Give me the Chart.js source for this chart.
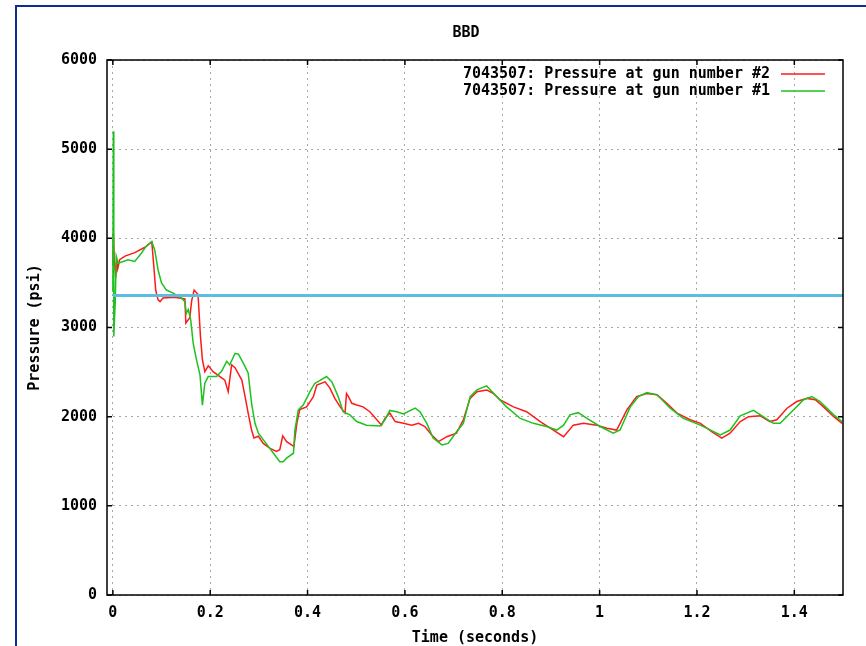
<!DOCTYPE html>
<html>
<head>
<meta charset="utf-8">
<script src="https://cdn.jsdelivr.net/npm/chart.js@4"></script>
<style>
  html, body { margin: 0; padding: 0; background: #fff; }
  #wrap { position: relative; width: 866px; height: 646px; overflow: hidden; }
  #frame { position: absolute; left: 15px; top: 5px; width: 900px; height: 700px;
           border-left: 2px solid #0c2c96; border-top: 2px solid #0c2c96; }
  canvas { position: absolute; left: 0; top: 0; }
</style>
</head>
<body>
<div id="wrap">
  <div id="frame"></div>
  <canvas id="chart" width="866" height="646"></canvas>
</div>
<script>
// Gun pressure traces. Time in seconds, pressure in psi.
const TITLE = 'BBD';
const X_TITLE = 'Time (seconds)';
const Y_TITLE = 'Pressure (psi)';

const xTicks = [0, 0.2, 0.4, 0.6, 0.8, 1, 1.2, 1.4];
const xTickLabels = ['0', '0.2', '0.4', '0.6', '0.8', '1', '1.2', '1.4'];
const yTicks = [0, 1000, 2000, 3000, 4000, 5000, 6000];
const yTickLabels = ['0', '1000', '2000', '3000', '4000', '5000', '6000'];

const redLabel = '7043507: Pressure at gun number #2';
const redTime = [
  0, 0.001, 0.003, 0.006, 0.008, 0.010, 0.014, 0.025, 0.045, 0.066,
  0.080, 0.084, 0.088, 0.093, 0.097, 0.103, 0.127, 0.148, 0.150, 0.158,
  0.162, 0.167, 0.175, 0.180, 0.184, 0.189, 0.196, 0.206, 0.220, 0.230,
  0.237, 0.244, 0.251, 0.265, 0.271, 0.278, 0.285, 0.290, 0.299, 0.309,
  0.323, 0.336, 0.343, 0.349, 0.357, 0.367, 0.372, 0.378, 0.384, 0.398,
  0.412, 0.419, 0.436, 0.446, 0.456, 0.467, 0.477, 0.480, 0.484, 0.491,
  0.501, 0.514, 0.528, 0.552, 0.559, 0.569, 0.580, 0.597, 0.614, 0.628,
  0.641, 0.655, 0.669, 0.686, 0.706, 0.720, 0.734, 0.748, 0.768, 0.782,
  0.795, 0.823, 0.850, 0.878, 0.905, 0.926, 0.946, 0.967, 0.994, 1.015,
  1.035, 1.056, 1.076, 1.097, 1.118, 1.138, 1.159, 1.186, 1.207, 1.231,
  1.251, 1.268, 1.289, 1.306, 1.330, 1.350, 1.364, 1.385, 1.405, 1.426,
  1.443, 1.460, 1.481, 1.498
];
const redPsi = [
  3700, 4060, 3750, 3560, 3750, 3660, 3760, 3800, 3840, 3900,
  3960, 3700, 3420, 3310, 3290, 3330, 3340, 3320, 3050, 3110,
  3300, 3420, 3370, 2900, 2640, 2505, 2570, 2505, 2450, 2410,
  2280, 2580, 2550, 2410, 2245, 2040, 1850, 1760, 1780, 1700,
  1645, 1610, 1630, 1785, 1720, 1683, 1665, 1925, 2080, 2110,
  2225, 2355, 2390, 2320, 2205, 2110, 2040, 2260, 2225, 2150,
  2130, 2110, 2055, 1905, 1980, 2040, 1945, 1925, 1905, 1925,
  1890, 1795, 1720, 1775, 1815, 1965, 2205, 2280, 2300, 2260,
  2190, 2110, 2055, 1945, 1850, 1775, 1905, 1925, 1905, 1870,
  1850, 2075, 2225, 2260, 2245, 2150, 2040, 1965, 1925, 1830,
  1760, 1815, 1945, 2000, 2010, 1945, 1965, 2095, 2170, 2205,
  2190, 2110, 2000, 1925
];

const greenLabel = '7043507: Pressure at gun number #1';
const greenTime = [
  0, 0.001, 0.002, 0.005, 0.007, 0.011, 0.031, 0.045, 0.059, 0.069,
  0.080, 0.086, 0.093, 0.100, 0.110, 0.124, 0.141, 0.148, 0.151, 0.155,
  0.160, 0.165, 0.172, 0.179, 0.184, 0.189, 0.196, 0.213, 0.223, 0.234,
  0.240, 0.251, 0.258, 0.268, 0.278, 0.285, 0.292, 0.299, 0.312, 0.330,
  0.343, 0.350, 0.357, 0.371, 0.374, 0.381, 0.391, 0.405, 0.415, 0.425,
  0.439, 0.450, 0.463, 0.473, 0.487, 0.501, 0.521, 0.549, 0.559, 0.569,
  0.583, 0.597, 0.621, 0.631, 0.645, 0.658, 0.676, 0.689, 0.706, 0.720,
  0.734, 0.748, 0.768, 0.785, 0.809, 0.837, 0.864, 0.891, 0.912, 0.926,
  0.939, 0.956, 0.974, 1.001, 1.028, 1.042, 1.063, 1.080, 1.097, 1.118,
  1.145, 1.172, 1.207, 1.248, 1.268, 1.289, 1.316, 1.336, 1.357, 1.371,
  1.398, 1.419, 1.436, 1.453, 1.481, 1.498
];
const greenPsi = [
  3400, 5200, 2900, 3300, 3800, 3720, 3760, 3740, 3835, 3915,
  3965, 3870, 3645, 3500, 3420, 3385, 3330, 3290, 3160, 3200,
  3085, 2825, 2635, 2470, 2130, 2375, 2450, 2450, 2505, 2620,
  2580, 2710, 2700, 2600, 2490, 2150, 1925, 1815, 1720, 1590,
  1495, 1495, 1535, 1590, 1850, 2075, 2130, 2280, 2375, 2405,
  2450, 2390, 2225, 2055, 2020, 1945, 1905, 1895, 1965, 2070,
  2055, 2030, 2095, 2055, 1925, 1760, 1683, 1700, 1830, 1925,
  2225, 2300, 2345, 2245, 2110, 1980, 1925, 1890, 1850, 1905,
  2020, 2045, 1980, 1890, 1815, 1850, 2110, 2225, 2270, 2245,
  2095, 1980, 1905, 1795, 1850, 2010, 2070, 2000, 1925, 1925,
  2075, 2190, 2225, 2170, 2020, 1945
];

// horizontal reference level
const refTime = [0, 1.5];
const refPsi = [3360, 3360];

const FONT = '"DejaVu Sans Mono", "Liberation Mono", monospace';
const RED = '#ff1a1a';
const GREEN = '#1ec21e';

const toPoints = (xs, ys) => xs.map((x, i) => ({ x, y: ys[i] }));

const gnuplotDecor = {
  id: 'gnuplotDecor',
  afterDatasetsDraw(chart) {
    const ctx = chart.ctx;
    const ca = chart.chartArea;
    const xs = chart.scales.x, ys = chart.scales.y;
    ctx.save();
    // plot border
    ctx.strokeStyle = '#000';
    ctx.lineWidth = 1.5;
    ctx.setLineDash([]);
    ctx.strokeRect(ca.left, ca.top, ca.right - ca.left, ca.bottom - ca.top);
    // inward ticks, mirrored
    ctx.lineWidth = 1.5;
    ctx.beginPath();
    xTicks.forEach(v => {
      const px = xs.getPixelForValue(v);
      ctx.moveTo(px, ca.bottom); ctx.lineTo(px, ca.bottom - 5);
      ctx.moveTo(px, ca.top); ctx.lineTo(px, ca.top + 5);
    });
    yTicks.forEach(v => {
      const py = ys.getPixelForValue(v);
      ctx.moveTo(ca.left, py); ctx.lineTo(ca.left + 5, py);
      ctx.moveTo(ca.right, py); ctx.lineTo(ca.right - 5, py);
    });
    ctx.stroke();

    // title
    ctx.fillStyle = '#000';
    ctx.font = 'bold 15px ' + FONT;
    ctx.textAlign = 'center';
    ctx.textBaseline = 'middle';
    ctx.fillText(TITLE, 466, 33);

    // key, gnuplot style: text right-aligned, sample line after it
    const keys = [[redLabel, RED], [greenLabel, GREEN]];
    ctx.textAlign = 'right';
    keys.forEach(([label, color], i) => {
      const y = 74 + i * 17;
      ctx.fillStyle = '#000';
      ctx.fillText(label, 770, y);
      ctx.strokeStyle = color;
      ctx.lineWidth = 1.5;
      ctx.beginPath();
      ctx.moveTo(781, y);
      ctx.lineTo(825, y);
      ctx.stroke();
    });
    ctx.restore();
  }
};

new Chart(document.getElementById('chart'), {
  type: 'line',
  data: {
    datasets: [
      { label: 'ref', data: toPoints(refTime, refPsi), borderColor: '#5bbde0',
        borderWidth: 3, pointRadius: 0, tension: 0, order: 0 },
      { label: greenLabel, data: toPoints(greenTime, greenPsi), borderColor: GREEN,
        borderWidth: 1.5, pointRadius: 0, tension: 0, order: 1 },
      { label: redLabel, data: toPoints(redTime, redPsi), borderColor: RED,
        borderWidth: 1.5, pointRadius: 0, tension: 0, order: 2 },
    ]
  },
  options: {
    responsive: false,
    animation: false,
    layout: { padding: { top: 60, right: 23, bottom: 0, left: 0 } },
    plugins: { legend: { display: false }, tooltip: { enabled: false } },
    scales: {
      x: {
        type: 'linear',
        min: -0.012, max: 1.5,
        afterBuildTicks: s => { s.ticks = xTicks.map(v => ({ value: v })); },
        afterFit: s => { s.height = 51; },
        grid: { color: '#a8a8a8', lineWidth: 1, drawTicks: false },
        border: { display: false, dash: [2, 4] },
        ticks: {
          padding: 9, color: '#000', maxRotation: 0, autoSkip: false,
          font: { family: FONT, size: 15, weight: 'bold' },
          callback: (v, i) => xTickLabels[i]
        },
        title: {
          display: true, text: X_TITLE, color: '#000',
          font: { family: FONT, size: 15, weight: 'bold', lineHeight: 1 },
          padding: { top: 0, bottom: 0 }
        }
      },
      y: {
        min: 0, max: 6000,
        afterBuildTicks: s => { s.ticks = yTicks.map(v => ({ value: v })); },
        afterFit: s => { s.width = 107; },
        grid: { color: '#a8a8a8', lineWidth: 1, drawTicks: false },
        border: { display: false, dash: [2, 4] },
        ticks: {
          padding: 10, color: '#000', autoSkip: false,
          font: { family: FONT, size: 15, weight: 'bold' },
          callback: (v, i) => yTickLabels[i]
        },
        title: {
          display: true, text: Y_TITLE, color: '#000',
          font: { family: FONT, size: 15, weight: 'bold' },
          padding: { top: 26, bottom: 0 }
        }
      }
    }
  },
  plugins: [gnuplotDecor]
});
</script>
</body>
</html>
